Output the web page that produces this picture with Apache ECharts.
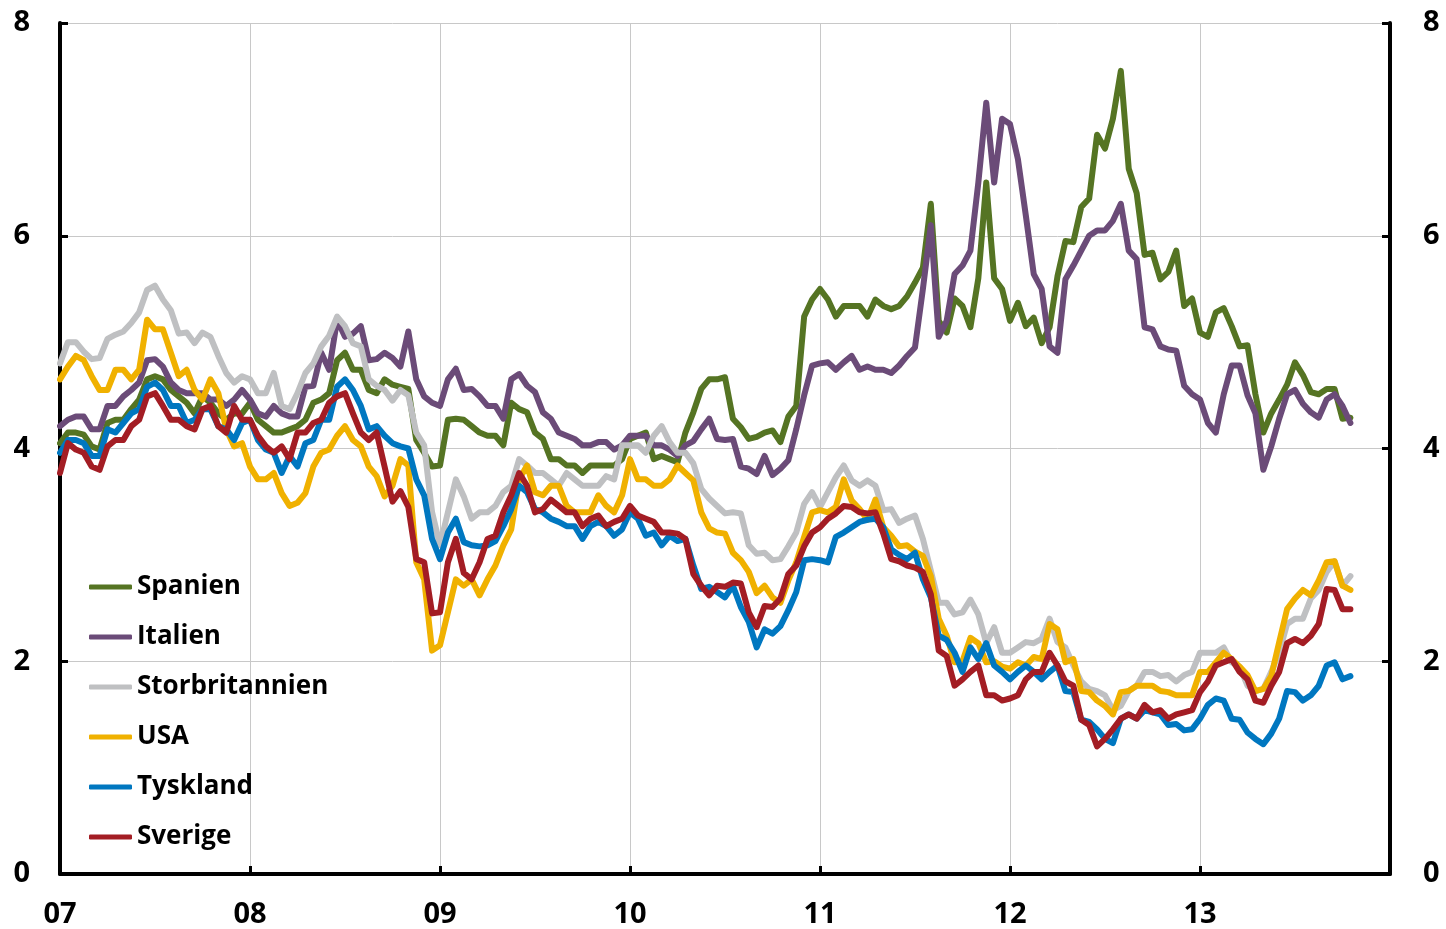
<!DOCTYPE html>
<html>
<head>
<meta charset="utf-8">
<script src="https://cdn.jsdelivr.net/npm/echarts@6/dist/echarts.min.js"></script>
<style>
  html, body { margin: 0; padding: 0; background: #fff; }
  #main { width: 1446px; height: 929px; }
</style>
</head>
<body>
<div id="main"></div>
<script>
// halvmånadsvärden, jan 2007 - okt 2013 (164 punkter)
const halfMonths = [];
for (let h = 0; h < 164; h++) halfMonths.push(2007 + h / 24);

const yearTicks = ['07', '08', '09', '10', '11', '12', '13'];

const spanien = [
  4.05, 4.15, 4.15, 4.13, 4.02, 3.99, 4.24, 4.27, 4.27, 4.37, 4.46, 4.65,
  4.68, 4.65, 4.55, 4.49, 4.43, 4.33, 4.49, 4.43, 4.33, 4.27, 4.33, 4.33,
  4.43, 4.27, 4.21, 4.15, 4.15, 4.18, 4.21, 4.27, 4.43, 4.46, 4.52, 4.83,
  4.90, 4.74, 4.74, 4.55, 4.52, 4.65, 4.60, 4.58, 4.56, 4.08, 3.96, 3.83,
  3.84, 4.27, 4.28, 4.27, 4.21, 4.15, 4.12, 4.12, 4.03, 4.43, 4.37, 4.34,
  4.15, 4.09, 3.90, 3.90, 3.84, 3.84, 3.77, 3.84, 3.84, 3.84, 3.84, 3.90,
  4.09, 4.12, 4.15, 3.90, 3.93, 3.90, 3.87, 4.15, 4.34, 4.56, 4.65, 4.65,
  4.67, 4.28, 4.20, 4.09, 4.11, 4.15, 4.17, 4.06, 4.30, 4.40, 5.24, 5.40,
  5.50, 5.40, 5.24, 5.34, 5.34, 5.34, 5.24, 5.40, 5.34, 5.31, 5.34, 5.43,
  5.56, 5.70, 6.30, 5.20, 5.09, 5.41, 5.34, 5.14, 5.60, 6.50, 5.60, 5.50,
  5.20, 5.37, 5.15, 5.23, 4.99, 5.14, 5.62, 5.95, 5.94, 6.27, 6.35, 6.95,
  6.82, 7.10, 7.55, 6.63, 6.40, 5.82, 5.84, 5.59, 5.66, 5.86, 5.34, 5.41,
  5.09, 5.05, 5.28, 5.32, 5.15, 4.96, 4.97, 4.51, 4.15, 4.33, 4.46, 4.60,
  4.81, 4.69, 4.53, 4.51, 4.56, 4.56, 4.28, 4.29
];
const italien = [
  4.21, 4.27, 4.30, 4.30, 4.18, 4.18, 4.40, 4.40, 4.49, 4.55, 4.62, 4.83,
  4.84, 4.77, 4.62, 4.55, 4.52, 4.52, 4.52, 4.46, 4.46, 4.40, 4.46, 4.55,
  4.46, 4.33, 4.30, 4.40, 4.33, 4.30, 4.30, 4.58, 4.59, 4.90, 4.74, 5.21,
  5.05, 5.08, 5.15, 4.83, 4.84, 4.90, 4.85, 4.77, 5.10, 4.65, 4.49, 4.43,
  4.40, 4.65, 4.75, 4.55, 4.56, 4.49, 4.40, 4.40, 4.28, 4.65, 4.70, 4.59,
  4.53, 4.34, 4.28, 4.15, 4.12, 4.09, 4.03, 4.03, 4.06, 4.06, 3.99, 4.03,
  4.12, 4.12, 4.12, 4.03, 4.03, 3.99, 3.93, 4.03, 4.07, 4.18, 4.28, 4.09,
  4.08, 4.09, 3.83, 3.81, 3.76, 3.93, 3.75, 3.81, 3.89, 4.18, 4.50, 4.78,
  4.80, 4.81, 4.74, 4.81, 4.87, 4.74, 4.77, 4.74, 4.74, 4.71, 4.78, 4.87,
  4.95, 5.50, 6.10, 5.05, 5.20, 5.64, 5.72, 5.86, 6.50, 7.25, 6.50, 7.10,
  7.05, 6.72, 6.19, 5.64, 5.50, 4.96, 4.90, 5.59, 5.72, 5.86, 6.00, 6.05,
  6.05, 6.14, 6.30, 5.86, 5.78, 5.14, 5.12, 4.96, 4.93, 4.92, 4.59, 4.51,
  4.46, 4.24, 4.15, 4.51, 4.78, 4.78, 4.50, 4.33, 3.80, 4.02, 4.28, 4.51,
  4.55, 4.42, 4.34, 4.29, 4.46, 4.51, 4.40, 4.24
];
const storbritannien = [
  4.80, 5.00, 5.00, 4.91, 4.84, 4.85, 5.03, 5.07, 5.10, 5.18, 5.28, 5.49,
  5.53, 5.40, 5.30, 5.08, 5.09, 4.99, 5.09, 5.05, 4.87, 4.71, 4.62, 4.68,
  4.65, 4.52, 4.52, 4.71, 4.40, 4.37, 4.52, 4.71, 4.80, 4.96, 5.06, 5.24,
  5.15, 4.99, 4.96, 4.65, 4.59, 4.55, 4.45, 4.55, 4.50, 4.15, 4.03, 3.40,
  3.09, 3.40, 3.71, 3.55, 3.34, 3.40, 3.40, 3.46, 3.59, 3.65, 3.90, 3.84,
  3.77, 3.77, 3.71, 3.65, 3.77, 3.71, 3.65, 3.65, 3.65, 3.74, 3.71, 4.03,
  4.03, 4.03, 3.96, 4.12, 4.21, 4.06, 3.96, 3.96, 3.86, 3.62, 3.53, 3.46,
  3.39, 3.40, 3.39, 3.09, 3.01, 3.02, 2.95, 2.96, 3.08, 3.21, 3.48, 3.59,
  3.45, 3.59, 3.73, 3.84, 3.70, 3.65, 3.70, 3.65, 3.42, 3.43, 3.30, 3.34,
  3.37, 3.15, 2.85, 2.55, 2.55, 2.44, 2.46, 2.58, 2.44, 2.17, 2.32, 2.08,
  2.08, 2.13, 2.18, 2.17, 2.21, 2.40, 2.18, 2.13, 1.96, 1.81, 1.74, 1.72,
  1.68, 1.54, 1.58, 1.72, 1.77, 1.90, 1.90, 1.86, 1.87, 1.81, 1.87, 1.90,
  2.08, 2.08, 2.08, 2.13, 1.99, 1.95, 1.77, 1.72, 1.74, 1.90, 2.08, 2.35,
  2.40, 2.40, 2.59, 2.67, 2.84, 2.94, 2.71, 2.80
];
const usa = [
  4.65, 4.77, 4.87, 4.83, 4.68, 4.55, 4.55, 4.74, 4.74, 4.65, 4.74, 5.21,
  5.12, 5.12, 4.90, 4.68, 4.74, 4.55, 4.46, 4.65, 4.52, 4.18, 4.02, 4.05,
  3.83, 3.71, 3.71, 3.77, 3.58, 3.46, 3.49, 3.58, 3.83, 3.96, 3.99, 4.12,
  4.21, 4.08, 4.02, 3.83, 3.74, 3.55, 3.65, 3.90, 3.84, 2.93, 2.77, 2.10,
  2.15, 2.46, 2.77, 2.71, 2.77, 2.62, 2.77, 2.90, 3.09, 3.24, 3.71, 3.84,
  3.59, 3.56, 3.65, 3.65, 3.46, 3.40, 3.40, 3.40, 3.56, 3.46, 3.40, 3.56,
  3.90, 3.71, 3.71, 3.65, 3.65, 3.71, 3.84, 3.77, 3.70, 3.40, 3.25, 3.21,
  3.20, 3.02, 2.95, 2.84, 2.64, 2.71, 2.60, 2.55, 2.76, 2.93, 3.17, 3.40,
  3.42, 3.40, 3.45, 3.71, 3.51, 3.43, 3.33, 3.52, 3.26, 3.18, 3.08, 3.09,
  3.03, 2.99, 2.80, 2.40, 2.24, 1.99, 2.00, 2.22, 2.17, 1.99, 2.00, 1.95,
  1.93, 1.99, 1.96, 2.04, 2.02, 2.35, 2.30, 1.99, 2.02, 1.72, 1.71, 1.63,
  1.58, 1.50, 1.71, 1.72, 1.77, 1.77, 1.77, 1.72, 1.71, 1.68, 1.68, 1.68,
  1.90, 1.90, 1.99, 2.08, 2.02, 1.95, 1.87, 1.72, 1.74, 1.86, 2.18, 2.49,
  2.59, 2.67, 2.62, 2.76, 2.93, 2.94, 2.71, 2.67
];
const tyskland = [
  3.96, 4.08, 4.08, 4.05, 3.93, 3.93, 4.18, 4.15, 4.24, 4.33, 4.37, 4.58,
  4.62, 4.55, 4.40, 4.40, 4.24, 4.27, 4.37, 4.37, 4.21, 4.18, 4.08, 4.24,
  4.27, 4.08, 3.99, 3.96, 3.77, 3.93, 3.83, 4.05, 4.08, 4.27, 4.27, 4.58,
  4.65, 4.55, 4.40, 4.18, 4.21, 4.12, 4.05, 4.02, 4.00, 3.71, 3.56, 3.15,
  2.96, 3.21, 3.34, 3.12, 3.09, 3.08, 3.09, 3.13, 3.27, 3.43, 3.65, 3.59,
  3.43, 3.40, 3.34, 3.31, 3.27, 3.27, 3.15, 3.27, 3.31, 3.27, 3.18, 3.24,
  3.40, 3.34, 3.18, 3.21, 3.09, 3.18, 3.13, 3.15, 2.90, 2.68, 2.70, 2.65,
  2.60, 2.71, 2.51, 2.37, 2.13, 2.30, 2.26, 2.33, 2.48, 2.65, 2.95, 2.96,
  2.95, 2.93, 3.17, 3.21, 3.26, 3.31, 3.33, 3.34, 3.26, 3.05, 3.00, 2.96,
  3.02, 2.77, 2.60, 2.24, 2.20, 2.08, 1.90, 2.13, 2.02, 2.17, 1.96, 1.90,
  1.83, 1.90, 1.96, 1.90, 1.83, 1.90, 1.96, 1.72, 1.71, 1.45, 1.43, 1.36,
  1.27, 1.23, 1.46, 1.50, 1.46, 1.54, 1.52, 1.50, 1.40, 1.41, 1.35, 1.36,
  1.46, 1.59, 1.65, 1.63, 1.46, 1.45, 1.33, 1.27, 1.22, 1.32, 1.46, 1.72,
  1.71, 1.63, 1.68, 1.77, 1.96, 1.99, 1.83, 1.86
];
const sverige = [
  3.77, 4.05, 3.99, 3.96, 3.83, 3.80, 4.02, 4.08, 4.08, 4.21, 4.27, 4.49,
  4.52, 4.40, 4.27, 4.27, 4.21, 4.18, 4.37, 4.40, 4.21, 4.15, 4.40, 4.27,
  4.27, 4.12, 4.02, 3.96, 4.02, 3.90, 4.15, 4.15, 4.24, 4.27, 4.43, 4.49,
  4.52, 4.33, 4.15, 4.08, 4.15, 3.83, 3.50, 3.60, 3.45, 2.96, 2.93, 2.45,
  2.46, 2.93, 3.15, 2.83, 2.77, 2.93, 3.15, 3.18, 3.40, 3.56, 3.77, 3.65,
  3.40, 3.43, 3.52, 3.46, 3.40, 3.40, 3.27, 3.34, 3.37, 3.27, 3.31, 3.34,
  3.46, 3.37, 3.34, 3.31, 3.21, 3.21, 3.20, 3.15, 2.82, 2.71, 2.62, 2.71,
  2.70, 2.74, 2.73, 2.46, 2.32, 2.52, 2.51, 2.59, 2.82, 2.90, 3.08, 3.21,
  3.26, 3.34, 3.39, 3.46, 3.45, 3.40, 3.39, 3.40, 3.20, 2.96, 2.94, 2.90,
  2.88, 2.84, 2.63, 2.10, 2.05, 1.77, 1.83, 1.90, 1.96, 1.68, 1.68, 1.63,
  1.65, 1.68, 1.83, 1.90, 1.90, 2.08, 1.96, 1.81, 1.77, 1.45, 1.40, 1.20,
  1.27, 1.36, 1.46, 1.50, 1.46, 1.59, 1.52, 1.54, 1.46, 1.50, 1.52, 1.54,
  1.71, 1.81, 1.96, 1.99, 2.02, 1.90, 1.83, 1.63, 1.61, 1.77, 1.90, 2.17,
  2.21, 2.17, 2.24, 2.35, 2.68, 2.67, 2.49, 2.49
];

const names = ['Spanien', 'Italien', 'Storbritannien', 'USA', 'Tyskland', 'Sverige'];
const colors = ['#557423', '#6b4b78', '#bfc0c2', '#f0b100', '#0077c0', '#a31d24'];
const values = [spanien, italien, storbritannien, usa, tyskland, sverige];

const font = 'Open Sans';
const axisLine = { show: true, onZero: false, lineStyle: { color: '#000', width: 4 } };
const axisTick = { show: true, inside: true, length: 8, lineStyle: { color: '#000', width: 3 } };
const label = { color: '#000', fontFamily: font, fontWeight: 'bold', fontSize: 29 };

var myChart = echarts.init(document.getElementById('main'));

const option = {
  animation: false,
  color: colors,
  grid: { left: 60, right: 56, top: 23, bottom: 55 },
  legend: {
    orient: 'vertical',
    left: 89,
    top: 572,
    padding: 0,
    icon: 'roundRect',
    itemWidth: 43,
    itemHeight: 5,
    itemGap: 20,
    textStyle: { color: '#000', fontFamily: font, fontWeight: 'bold', fontSize: 26, lineHeight: 30 },
    data: names
  },
  xAxis: {
    type: 'value',
    min: 2007,
    max: 2014,
    interval: 1,
    axisLine: axisLine,
    axisTick: axisTick,
    splitLine: { show: true, lineStyle: { color: '#c8c8c8', width: 1 } },
    axisLabel: Object.assign({}, label, {
      margin: 26,
      showMaxLabel: false,
      formatter: function (v) { return yearTicks[v - 2007] || ''; }
    })
  },
  yAxis: [
    {
      type: 'value', min: 0, max: 8, interval: 2, position: 'left',
      axisLine: axisLine, axisTick: axisTick,
      splitLine: { show: true, lineStyle: { color: '#c8c8c8', width: 1 } },
      axisLabel: Object.assign({}, label, { margin: 30 })
    },
    {
      type: 'value', min: 0, max: 8, interval: 2, position: 'right',
      axisLine: axisLine, axisTick: axisTick,
      splitLine: { show: false },
      axisLabel: Object.assign({}, label, { margin: 33 })
    }
  ],
  series: names.map(function (name, i) {
    return {
      name: name,
      type: 'line',
      showSymbol: false,
      data: halfMonths.map(function (m, j) { return [m, values[i][j]]; }),
      lineStyle: { width: 6, color: colors[i], cap: 'round', join: 'round' },
      itemStyle: { color: colors[i] }
    };
  })
};

myChart.setOption(option);

window.addEventListener('resize', function () {
  myChart.resize();
});
</script>
</body>
</html>
